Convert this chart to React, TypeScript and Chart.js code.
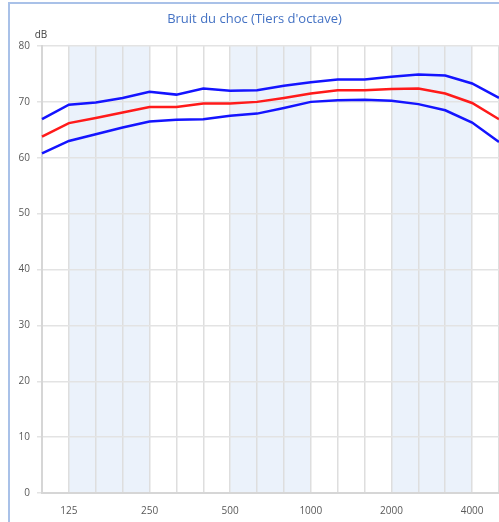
import React, { useEffect, useRef } from "react";
import { Chart, registerables } from "chart.js";

Chart.register(...registerables);

const frequencies = ["100", "125", "160", "200", "250", "315", "400", "500", "630", "800", "1000", "1250", "1600", "2000", "2500", "3150", "4000", "5000"];
const shownTickLabels = ["125", "250", "500", "1000", "2000", "4000"];
const upperValues = [66.9, 69.5, 69.9, 70.7, 71.8, 71.3, 72.4, 72.0, 72.1, 72.9, 73.5, 74.0, 74.0, 74.5, 74.9, 74.7, 73.3, 70.7];
const meanValues = [63.8, 66.2, 67.1, 68.1, 69.1, 69.1, 69.7, 69.7, 70.0, 70.7, 71.5, 72.1, 72.1, 72.3, 72.4, 71.5, 69.8, 66.9];
const lowerValues = [60.8, 63.0, 64.2, 65.4, 66.5, 66.8, 66.9, 67.5, 67.9, 68.9, 70.0, 70.3, 70.4, 70.2, 69.6, 68.5, 66.3, 62.8];
// octave bands shaded (from, to)
const shadedBands: [string, string][] = [["125", "250"], ["500", "1000"], ["2000", "4000"]];

const FONT = "'Open Sans', 'Noto Sans', sans-serif";

const bandsPlugin = {
  id: "bands",
  beforeDraw(chart: any) {
    const { ctx, chartArea, scales } = chart;
    const x = scales.x;
    ctx.save();
    ctx.fillStyle = "#EBF2FB";
    for (const [a, b] of shadedBands) {
      const x0 = x.getPixelForValue(frequencies.indexOf(a));
      const x1 = x.getPixelForValue(frequencies.indexOf(b));
      ctx.fillRect(x0, chartArea.top, x1 - x0, chartArea.bottom - chartArea.top);
    }
    ctx.restore();
  },
  afterDraw(chart: any) {
    const { ctx, chartArea } = chart;
    ctx.save();
    ctx.fillStyle = "#404040";
    ctx.font = `10px ${FONT}`;
    ctx.textAlign = "center";
    ctx.textBaseline = "middle";
    ctx.fillText("dB", chartArea.left - 1, chartArea.top - 11);
    ctx.restore();
  },
};

export default function App() {
  const ref = useRef<HTMLCanvasElement | null>(null);
  useEffect(() => {
    if (!ref.current) return;
    const chart = new Chart(ref.current, {
      type: "line",
      data: {
        labels: frequencies,
        datasets: [
          { label: "max", data: upperValues, borderColor: "#1414FF", borderWidth: 2.5, pointRadius: 0, tension: 0 },
          { label: "moyenne", data: meanValues, borderColor: "#FF1A1A", borderWidth: 2.5, pointRadius: 0, tension: 0 },
          { label: "min", data: lowerValues, borderColor: "#1414FF", borderWidth: 2.5, pointRadius: 0, tension: 0 },
        ],
      },
      options: {
        animation: false,
        responsive: false,
        devicePixelRatio: 1,
        layout: { padding: { left: 0, right: 1, top: 0, bottom: 0 } },
        plugins: {
          legend: { display: false },
          tooltip: { enabled: false },
          title: {
            display: true,
            text: "Bruit du choc (Tiers d'octave)",
            color: "#4472C4",
            font: { family: FONT, size: 13, weight: "normal" },
            padding: { top: 7, bottom: 19.4 },
          },
        },
        scales: {
          x: {
            type: "category",
            offset: false,
            border: { display: true, color: "#D6D6D6", width: 2 },
            grid: { color: "#DEDEDE", lineWidth: 1.5, drawTicks: false },
            ticks: {
              autoSkip: false,
              maxRotation: 0,
              padding: 12,
              color: "#595959",
              font: { family: FONT, size: 10 },
              callback: (_v: any, i: number) => (shownTickLabels.includes(frequencies[i]) ? frequencies[i] : ""),
            },
            afterFit: (s: any) => {
              s.height = 41;
              s.paddingLeft = 0;
              s.paddingRight = 0;
            },
          },
          y: {
            min: 0,
            max: 80,
            border: { display: true, color: "#D6D6D6", width: 2 },
            grid: { color: "#E3E3E3", lineWidth: 1.5, drawTicks: true, tickLength: 5 },
            ticks: {
              stepSize: 10,
              padding: 7,
              color: "#595959",
              font: { family: FONT, size: 10 },
            },
            afterFit: (s: any) => { s.width = 32; },
          },
        },
      },
      plugins: [bandsPlugin],
    });
    return () => chart.destroy();
  }, []);

  return (
    <div style={{ position: "fixed", left: 0, top: 0, width: 499, height: 522, overflow: "hidden", background: "#fff" }}>
      <div
        style={{
          position: "absolute",
          left: 8,
          top: 2,
          width: 520,
          height: 560,
          borderLeft: "2px solid #A9C1E8",
          borderTop: "2px solid #A9C1E8",
        }}
      >
        <canvas ref={ref} width={490} height={530} style={{ display: "block", width: 490, height: 530 }} />
      </div>
    </div>
  );
}
